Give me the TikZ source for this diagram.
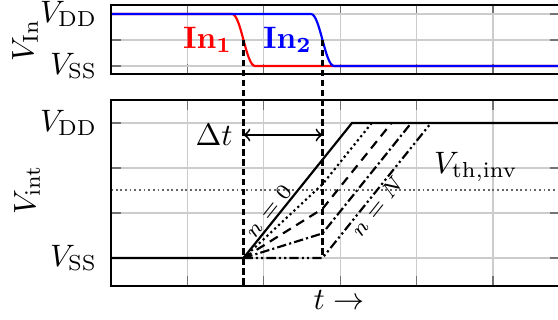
\documentclass[tikz,border=0pt]{standalone}
\usepackage{amsmath}
\usepackage{tikz}
\usetikzlibrary{calc}

\begin{document}
\begin{tikzpicture}[
      x=0.3225pt, y=0.3225pt,
      lbl/.style={font=\scriptsize, inner sep=0.6pt},
      frame/.style={draw, line width=0.75pt},
      grd/.style={draw=black!20, line width=0.4pt},
      tck/.style={draw=black!55, line width=0.4pt},
      thr/.style={draw=black!60, line width=0.6pt, dash pattern=on 0.6pt off 0.9pt},
      sig/.style={line width=0.7pt},
      mrk/.style={line width=0.7pt, dash pattern=on 2.1pt off 1.1pt}
  ]
    \useasboundingbox (0,0) rectangle (558,320);
    \foreach \x in {187.4,263.8,340.2,416.6,493} {
      \draw[grd] (\x,246) -- (\x,315) (\x,34) -- (\x,220);
      \draw[tck] (\x,246) -- ++(0,10) (\x,315) -- ++(0,-10) (\x,34) -- ++(0,10) (\x,220) -- ++(0,-10);
    }
    \foreach \y in {254,280,306,62,107,152,197} {
      \draw[grd] (111,\y) -- (560,\y);
      \draw[tck] (111,\y) -- ++(10,0) (560,\y) -- ++(-10,0);
    }
    \draw[thr] (111,130) -- (560,130);

    \coordinate (m1) at (243.5,280);
    \coordinate (m2) at (322.5,280);
    \coordinate (end) at (243.5,34);
    \coordinate (o) at (243.5,62);
    \coordinate (b) at (322.5,62);
    \coordinate (a) at (322.5,160.3);
    \coordinate (top) at (352,197);

    \draw[sig, red] (111,306) -- (232,306) .. controls (241,306) and (246,254) .. (255,254) -- (560,254);
    \draw[sig, blue] (111,306) -- (311,306) .. controls (320,306) and (325,254) .. (334,254) -- (560,254);
    \node[red, font=\bfseries] (in1) at (207.5,280) {In$_\mathbf{1}$};
    \node[blue, font=\bfseries] (in2) at (287.5,280) {In$_\mathbf{2}$};

    \draw[mrk] (m1) -- (end);
    \draw[mrk] (m2) -- (b);

    \draw[sig] (111,62) -- (o) -- node[lbl, pos=0.3, sloped, above] (n0) {$n=0$} (top) -- (560,197);
    \foreach \k/\st in {1/densely dotted, 2/densely dashed, 3/densely dash dot, 4/densely dash dot dot}
      \draw[sig, \st] (o) -- ($(a)!\k/4!(b)$) -- ($(top)+(\k*19.75,0)$);
    \path (b) -- node[lbl, pos=0.43, sloped, below] (nN) {$n=N$} ($(top)+(79,0)$);

    \coordinate (d1) at (243.5,185);
    \coordinate (d2) at (322.5,185);
    \draw[<->, line width=0.6pt] (d1) -- (d2);
    \node[anchor=east] (dt) at (d1) {$\Delta t$};
    \node (vth) at (476,153) {$V_{\mathrm{th,inv}}$};

    \draw[frame] (111,246) rectangle (560,315);
    \draw[frame] (111,34) rectangle (560,220);

    \node[anchor=east] (vdd1) at (108,306) {$V_{\mathrm{DD}}$};
    \node[anchor=east] (vss1) at (108,254) {$V_{\mathrm{SS}}$};
    \node[rotate=90] (vin) at (25,280) {$V_{\mathrm{In}}$};
    \node[anchor=east] (vdd2) at (108,197) {$V_{\mathrm{DD}}$};
    \node[anchor=east] (vss2) at (108,62) {$V_{\mathrm{SS}}$};
    \node[rotate=90] (vint) at (27,130) {$V_{\mathrm{int}}$};
    \node (tax) at (339,20) {$t\rightarrow$};
  \end{tikzpicture}
\end{document}
